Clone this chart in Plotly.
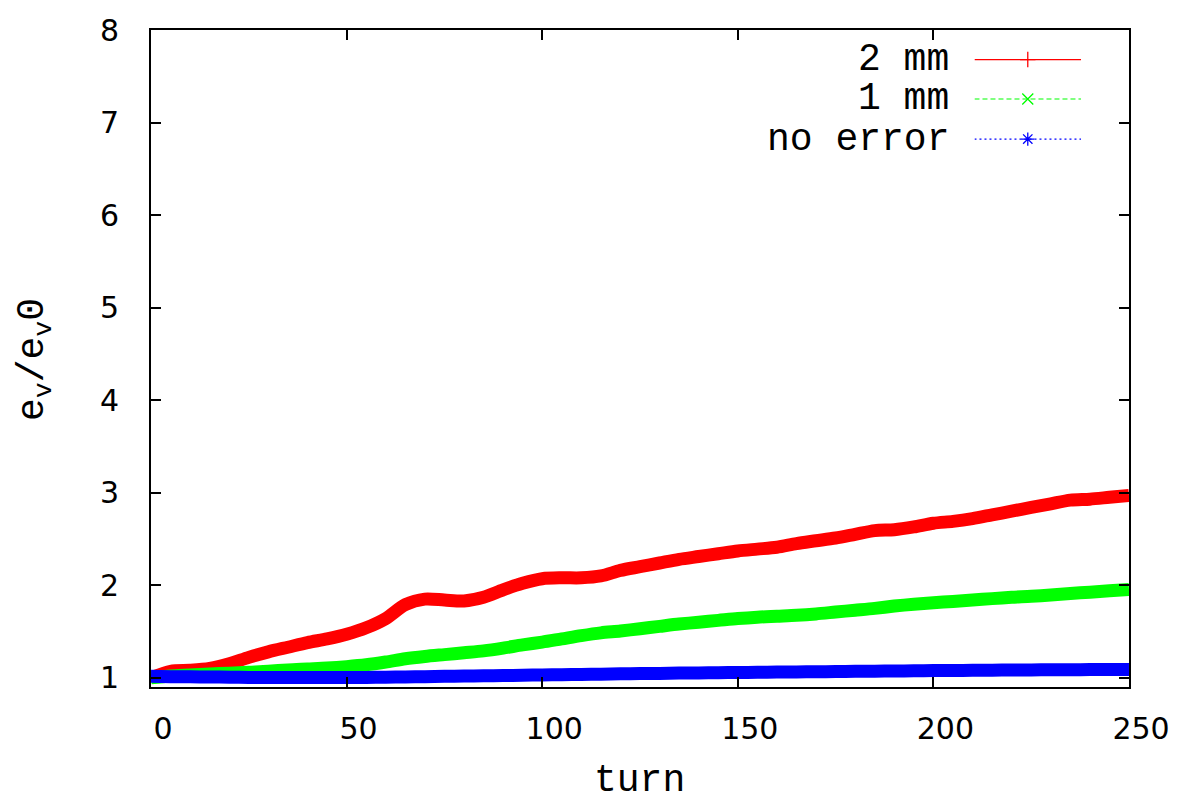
import plotly.graph_objects as go

# ---- data ----
turn = [0, 5, 10, 15, 20, 25, 30, 35, 40, 45, 50, 55, 60, 65, 70, 75, 80, 85, 90, 95,
        100, 105, 110, 115, 120, 125, 130, 135, 140, 145, 150, 155, 160, 165, 170, 175,
        180, 185, 190, 195, 200, 205, 210, 215, 220, 225, 230, 235, 240, 245, 250]

err_2mm = [1.00, 1.07, 1.08, 1.10, 1.15, 1.22, 1.28, 1.33, 1.38, 1.42, 1.47, 1.54, 1.64, 1.79,
           1.85, 1.84, 1.83, 1.87, 1.95, 2.02, 2.07, 2.08, 2.08, 2.10, 2.16, 2.20, 2.24, 2.28,
           2.31, 2.34, 2.37, 2.39, 2.41, 2.45, 2.48, 2.51, 2.55, 2.59, 2.60, 2.63, 2.67, 2.69,
           2.72, 2.76, 2.80, 2.84, 2.88, 2.92, 2.93, 2.95, 2.97]

err_1mm = [1.00, 1.02, 1.03, 1.04, 1.05, 1.06, 1.07, 1.085, 1.095, 1.105, 1.12, 1.14, 1.17, 1.205,
           1.23, 1.25, 1.27, 1.29, 1.32, 1.355, 1.385, 1.42, 1.455, 1.485, 1.505, 1.53, 1.555, 1.58,
           1.60, 1.62, 1.64, 1.655, 1.665, 1.675, 1.69, 1.71, 1.73, 1.75, 1.775, 1.795, 1.81, 1.825,
           1.84, 1.855, 1.87, 1.88, 1.895, 1.91, 1.925, 1.94, 1.955]

no_error = [1.015, 1.012, 1.010, 1.008, 1.006, 1.004, 1.003, 1.002, 1.002, 1.002, 1.003, 1.004,
            1.006, 1.009, 1.012, 1.015, 1.018, 1.021, 1.024, 1.027, 1.030, 1.033, 1.036, 1.039,
            1.042, 1.045, 1.047, 1.050, 1.052, 1.055, 1.057, 1.059, 1.061, 1.063, 1.065, 1.067,
            1.069, 1.071, 1.073, 1.075, 1.077, 1.079, 1.080, 1.082, 1.083, 1.085, 1.086, 1.087,
            1.088, 1.089, 1.090]

series_names = ["2 mm", "1 mm", "no error"]
series_colors = ["#ff0000", "#00ff00", "#0000ff"]
series_dash = ["solid", "5px,3px", "2px,3px"]
series_symbols = ["cross-thin", "x-thin", "asterisk"]
x_ticks = [0, 50, 100, 150, 200, 250]
y_ticks = [1, 2, 3, 4, 5, 6, 7, 8]

TICK_FONT = dict(family="DejaVu Sans", size=30, color="black")
MONO_FONT = dict(family="Liberation Mono", size=38, color="black")

fig = go.Figure()
for name, ys, col in zip(series_names, [err_2mm, err_1mm, no_error], series_colors):
    fig.add_trace(go.Scatter(x=turn, y=ys, mode="lines", name=name,
                             line=dict(color=col, width=13, shape="spline", smoothing=0.8),
                             showlegend=False))

# ---- gnuplot-style key (text on the left, sample on the right) ----
key_y = [0.955, 0.895, 0.834]
for name, col, dash, sym, ky in zip(series_names, series_colors, series_dash, series_symbols, key_y):
    fig.add_trace(go.Scatter(x=[0, 2], y=[ky, ky], mode="lines", xaxis="x2", yaxis="y2",
                             line=dict(color=col, width=1.2, dash=dash), showlegend=False,
                             hoverinfo="skip"))
    fig.add_trace(go.Scatter(x=[1], y=[ky], mode="markers", xaxis="x2", yaxis="y2",
                             marker=dict(symbol=sym, size=11, color=col,
                                         line=dict(color=col, width=1.3)),
                             showlegend=False, hoverinfo="skip"))
    fig.add_annotation(text=name, xref="paper", yref="paper", x=0.8177, y=ky,
                       xanchor="right", yanchor="middle", showarrow=False, font=MONO_FONT)

axis_common = dict(showline=True, linecolor="black", linewidth=2, mirror="ticks",
                   ticks="inside", ticklen=10, tickwidth=1.5, tickcolor="black",
                   showgrid=False, zeroline=False, tickfont=TICK_FONT)

fig.update_layout(
    width=1182, height=806,
    margin=dict(l=151, r=51, t=23, b=119),
    paper_bgcolor="white", plot_bgcolor="rgba(0,0,0,0)",
    xaxis=dict(range=[0, 250], tickvals=x_ticks, ticklabelstandoff=14,
               ticklabelshift=12, **axis_common),
    yaxis=dict(range=[0.9, 8], tickvals=y_ticks, ticklabelstandoff=24, **axis_common),
    xaxis2=dict(domain=[0.842, 0.951], range=[0, 2], visible=False, anchor="y2"),
    yaxis2=dict(domain=[0, 1], range=[0, 1], visible=False, anchor="x2"),
)

fig.add_annotation(text="turn", xref="paper", yref="paper", x=0.4993, y=-0.143,
                   xanchor="center", yanchor="middle", showarrow=False, font=MONO_FONT)
fig.add_annotation(text="e<sub>v</sub>/e<sub>v</sub>0", xref="paper", yref="paper",
                   x=-0.118, y=0.4985, xanchor="center", yanchor="middle", textangle=-90,
                   showarrow=False, font=MONO_FONT)

fig.write_html("out.html")
